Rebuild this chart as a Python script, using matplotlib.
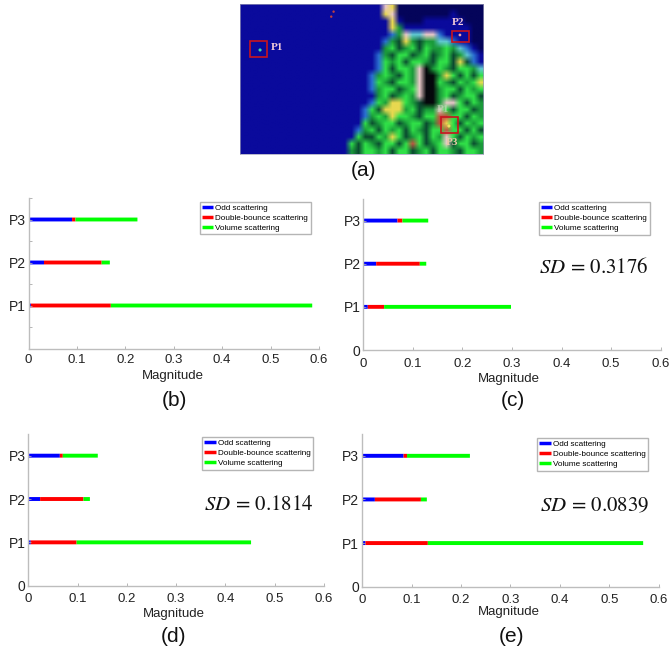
import numpy as np
import matplotlib
matplotlib.use("Agg")
import matplotlib.pyplot as plt
from matplotlib.colors import to_rgb
from matplotlib.patches import Rectangle

W, H = 671, 652

plt.rcParams['font.family'] = ['Liberation Sans', 'DejaVu Sans']
plt.rcParams['mathtext.fontset'] = 'stix'

points = ['P1', 'P2', 'P3']
legend_labels = ['Odd scattering', 'Double-bounce scattering', 'Volume scattering']
colors = ['#0000ff', '#ff0000', '#00ff00']
x_ticks = [0, 0.1, 0.2, 0.3, 0.4, 0.5, 0.6]
x_tick_labels = ['0', '0.1', '0.2', '0.3', '0.4', '0.5', '0.6']

# segment lengths for P1, P2, P3
odd_b = [0.005, 0.032, 0.090]
double_b = [0.165, 0.119, 0.007]
volume_b = [0.416, 0.017, 0.128]

odd_c = [0.009, 0.026, 0.069]
double_c = [0.033, 0.088, 0.010]
volume_c = [0.256, 0.013, 0.052]

odd_d = [0.005, 0.024, 0.064]
double_d = [0.093, 0.088, 0.006]
volume_d = [0.354, 0.013, 0.071]

odd_e = [0.007, 0.026, 0.084]
double_e = [0.126, 0.093, 0.007]
volume_e = [0.435, 0.012, 0.127]

# coarse reading of the SAR image, one letter per patch
sar_rows = [
    "bbbbbbbbbbbbbbbbbbbbbwynnnnnnnnnnnnn",
    "bbbbbbbbbbbbbbbbbbbbbywnnnnnnnnbnnnn",
    "bbbbbbbbbbbbbbbbbbbbbbybnnnbbbbbbnnn",
    "bbbbbbbbbbbbbbbbbbbbbbygbbbbbbbbbbnn",
    "bbbbbbbbbbbbbbbbbbbbbbtgwccwwtbbbbnn",
    "bbbbbbbbbbbbbbbbbbbbbtgdygdggcctbbnn",
    "bbbbbbbbbbbbbbbbbbbbbgGdgGdGggGgctbn",
    "bbbbbbbbbbbbbbbbbbbbtgdGGdgGdgGdgctb",
    "bbbbbbbbbbbbbbbbbbbbtGgGdGGgdGGdydtb",
    "bbbbbbbbbbbbbbbbbbbbtGdGGgwkgGgdGGgc",
    "bbbbbbbbbbbbbbbbbbbtgGgdGgwkkgyGdGdG",
    "bbbbbbbbbbbbbbbbbbbtGgdGGgwkkGgdGgGy",
    "bbbbbbbbbbbbbbbbbbbtgGGdgGwkkgGGdGgG",
    "bbbbbbbbbbbbbbbbbbbbgGdgGgwkkgGdgGGd",
    "bbbbbbbbbbbbbbbbbbbtGgyyGgdkkgwwGdGg",
    "bbbbbbbbbbbbbbbbbbtGdyyygGdggwGdGGdg",
    "bbbbbbbbbbbbbbbbbbtgGgyGGgdGGrrGGdGg",
    "bbbbbbbbbbbbbbbbbbGdgGGdgGGdgryGdGgG",
    "bbbbbbbbbbbbbbbbbtgGdGgGdGgdGGrGGdGd",
    "bbbbbbbbbbbbbbbbbGddGgyGdgGdGgwGdGgG",
    "bbbbbbbbbbbbbbbbGdGgdGGdGrGdgGwdGGdg",
    "bbbbbbbbbbbbbbbbgdGGgGdGGdgGdGGgdGGg",
]
sar_colors = {'b': '#0a0a9c', 'n': '#04045a', 'g': '#1a9a3a', 'G': '#30e048', 'd': '#0a4a30',
              'y': '#e8d850', 't': '#2a70d0', 'c': '#60c8d0', 'w': '#e8c8c8', 'k': '#05080c',
              'r': '#c05040'}


def px_axes(fig, left, right, top, bottom):
    return fig.add_axes([left / W, 1 - bottom / H, (right - left) / W, (bottom - top) / H])


def draw_panel(fig, box, name, odd, double, volume, show_zero, legend_box, pad, mag, tag, sd=None):
    ax = px_axes(fig, *box)
    left = [0, 0, 0]
    for vals, color in zip([odd, double, volume], colors):
        ax.barh([1, 2, 3], vals, left=left, height=0.09, color=color, snap=False)
        left = [a + b for a, b in zip(left, vals)]

    ax.set_xlim(0, 0.6)
    ax.set_ylim(0, 3.5)
    ax.set_xticks(x_ticks)
    ax.set_xticklabels(x_tick_labels, fontsize=9.5, color='#222222')
    if show_zero:
        ax.set_yticks([0, 1, 2, 3])
        ax.set_yticklabels(['0'] + points, fontsize=10, color='#222222')
    else:
        ax.set_yticks([0.5, 1, 1.5, 2, 2.5, 3, 3.5])
        ax.set_yticklabels(['', 'P1', '', 'P2', '', 'P3', ''], fontsize=10, color='#222222')
    ax.tick_params(axis='x', direction='in', length=2.5, width=0.6, color='#aaaaaa', pad=pad)
    ax.tick_params(axis='y', direction='in', length=2.5, width=0.6, color='#aaaaaa', pad=2)
    for s in ['top', 'right']:
        ax.spines[s].set_visible(False)
    for s in ['left', 'bottom']:
        ax.spines[s].set_color('#bdbdbd')
        ax.spines[s].set_linewidth(1.0)
    ax.patch.set_alpha(0)

    lines = [plt.Line2D([], [], color=c, lw=2.5, solid_capstyle='butt') for c in colors]
    lx, ly = legend_box
    fig.legend(lines, legend_labels, loc='upper left', bbox_to_anchor=(lx / W, 1 - ly / H),
               bbox_transform=fig.transFigure, fontsize=5.9, fancybox=False, framealpha=1,
               edgecolor='#b5b5b5', borderaxespad=0, borderpad=0.3, labelspacing=0.28,
               handlelength=1.4, handletextpad=0.25)

    fig.text(mag[0] / W, 1 - mag[1] / H, 'Magnitude', fontsize=9.5, ha='center', va='center',
             color='#222222')
    fig.text(tag[0] / W, 1 - tag[1] / H, name, fontsize=15, ha='center', va='center', color='#111111')
    if sd is not None:
        fig.text(sd[0] / W, 1 - sd[1] / H, r'$SD\,=\,%s$' % sd[2], fontsize=15,
                 ha='left', va='center', color='#111111')


fig = plt.figure(figsize=(W / 100, H / 100), dpi=100)

# panel (a): SAR composite
ax_img = px_axes(fig, 240, 483, 4.3, 154)
sar_rgb = np.array([[to_rgb(sar_colors[ch]) for ch in row] for row in sar_rows])
ax_img.imshow(sar_rgb, extent=(30, 757, 462, 13), aspect='auto', interpolation='bilinear')
ax_img.set_xticks([])
ax_img.set_yticks([])
for s in ax_img.spines.values():
    s.set_color('#9a9ab8')
    s.set_linewidth(0.5)
ax_img.scatter([90, 688, 655, 310, 303], [150, 105, 378, 35, 50], s=[5, 4, 5, 3, 3],
               c=['#40e0a0', '#f0a0a0', '#f0e060', '#c04040', '#c04040'], linewidths=0, zorder=6)
for x0, y0, w0, h0 in [(60, 122, 50, 50), (663, 92, 52, 33), (632, 352, 50, 48)]:
    ax_img.add_patch(Rectangle((x0, y0), w0, h0, fill=False, edgecolor='#c8141e',
                               linewidth=1.2, zorder=7))
for tx, ty, name, col, alpha in [(140, 143, 'P1', '#f0c8d8', 1), (682, 68, 'P2', '#f0c8d8', 1),
                                 (665, 428, 'P3', '#e8c8a8', 1), (638, 328, 'P1', '#c8d8c0', 0.6)]:
    ax_img.text(tx, ty, name, family='Liberation Serif', fontweight='bold', fontsize=8,
                ha='center', va='center', color=col, alpha=alpha, zorder=8)
fig.text(363 / W, 1 - 170 / H, '(a)', fontsize=15, ha='center', va='center', color='#111111')

draw_panel(fig, (28.5, 319, 198, 348.5), '(b)', odd_b, double_b, volume_b, False,
           (199.5, 201.7), 4, (173, 376), (174, 400))
draw_panel(fig, (363.3, 660.7, 199, 350), '(c)', odd_c, double_c, volume_c, True,
           (538.5, 202), 6, (509, 379), (513, 400), sd=(539, 267, '0.3176'))
draw_panel(fig, (28.3, 324, 434, 585.7), '(d)', odd_d, double_d, volume_d, True,
           (202, 437), 5, (174, 613.5), (174, 637), sd=(204, 504, '0.1814'))
draw_panel(fig, (362, 659, 434, 586.7), '(e)', odd_e, double_e, volume_e, True,
           (537, 438), 5, (509, 612.5), (512, 637), sd=(540, 506, '0.0839'))

fig.savefig('out.png', dpi=100)
